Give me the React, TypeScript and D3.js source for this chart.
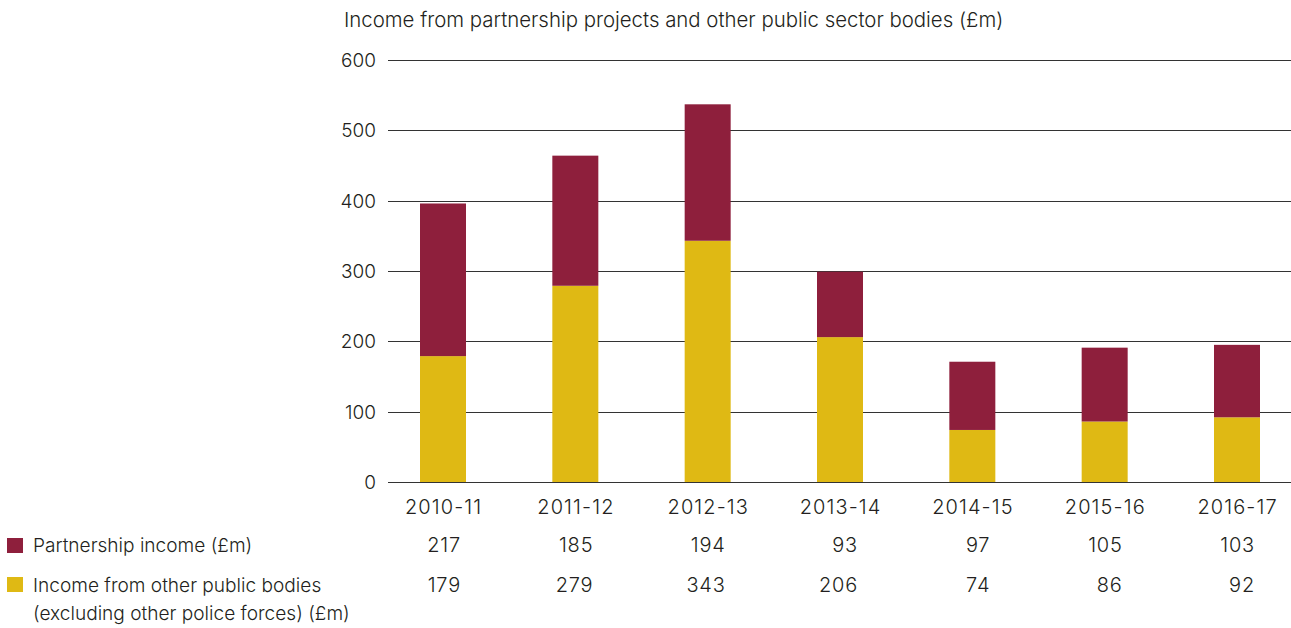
import React from "react";
import * as d3 from "d3";

// Financial years shown on the x axis
const years = ["2010-11", "2011-12", "2012-13", "2013-14", "2014-15", "2015-16", "2016-17"];
// Partnership income (£m)
const partnership = [217, 185, 194, 93, 97, 105, 103];
// Income from other public bodies, excluding other police forces (£m)
const otherPublic = [179, 279, 343, 206, 74, 86, 92];
// Y-axis ticks
const yTicks = [0, 100, 200, 300, 400, 500, 600];

const title = "Income from partnership projects and other public sector bodies (£m)";
const legendPartnership = ["Partnership income (£m)"];
const legendOther = ["Income from other public bodies", "(excluding other police forces) (£m)"];

const W = 1291;
const H = 628;
const MAROON = "#8e1f3c";
const GOLD = "#dfb914";
const TEXT = "#231f20";
const FONT = "Inter, 'Liberation Sans', Arial, sans-serif";

export default function App() {
  const x = d3.scalePoint<string>().domain(years).range([443, 1237]);
  const y = d3.scaleLinear().domain([0, 600]).range([482, 60]);
  const barW = 46;

  const rows = years.map((yr, i) => ({ year: yr, other: otherPublic[i], partnership: partnership[i] }));
  const stacked = d3.stack<any>().keys(["other", "partnership"])(rows);
  const colors: Record<string, string> = { other: GOLD, partnership: MAROON };

  const gridX0 = 388;
  const gridX1 = W;
  const valueRows = [
    { vals: partnership, baseline: 552 },
    { vals: otherPublic, baseline: 592 },
  ];

  return (
    <svg
      width={W}
      height={H}
      style={{ position: "absolute", left: 0, top: 0, background: "#fff" }}
      fontFamily={FONT}
      fontWeight={300}
    >
      <text x={344} y={27} fontSize={20.4} fill={TEXT}>
        {title}
      </text>

      {/* gridlines and y tick labels */}
      {yTicks.map((t) => {
        const yy = Math.round(y(t)) + 0.5;
        return (
          <g key={t}>
            <line x1={gridX0} x2={gridX1} y1={yy} y2={yy} stroke="#333" strokeWidth={1} />
            <text x={376} y={yy} dy="0.35em" textAnchor="end" fontSize={19} fill={TEXT}>
              {t}
            </text>
          </g>
        );
      })}

      {/* stacked bars */}
      {stacked.map((layer) => (
        <g key={layer.key} fill={colors[layer.key]}>
          {layer.map((d, i) => (
            <rect
              key={years[i]}
              x={(x(years[i]) as number) - barW / 2}
              y={y(d[1])}
              width={barW}
              height={y(d[0]) - y(d[1])}
            />
          ))}
        </g>
      ))}

      {/* category labels */}
      {years.map((yr) => (
        <text
          key={yr}
          x={(x(yr) as number) + 0.6}
          y={514}
          textAnchor="middle"
          fontSize={20}
          letterSpacing={1.1}
          fill={TEXT}
        >
          {yr}
        </text>
      ))}

      {/* data table values */}
      {valueRows.map((r, ri) =>
        r.vals.map((v, i) => (
          <text
            key={ri + "-" + i}
            x={(x(years[i]) as number) + 18}
            y={r.baseline}
            textAnchor="end"
            fontSize={20}
            letterSpacing={0.8}
            fill={TEXT}
          >
            {v}
          </text>
        ))
      )}

      {/* legend */}
      <rect x={7} y={538} width={16} height={15} fill={MAROON} />
      {legendPartnership.map((l, i) => (
        <text key={l} x={33} y={552 + i * 28} fontSize={19.1} fill={TEXT}>
          {l}
        </text>
      ))}
      <rect x={7} y={577} width={16} height={15} fill={GOLD} />
      {legendOther.map((l, i) => (
        <text key={l} x={33} y={592 + i * 28} fontSize={19.1} fill={TEXT}>
          {l}
        </text>
      ))}
    </svg>
  );
}
